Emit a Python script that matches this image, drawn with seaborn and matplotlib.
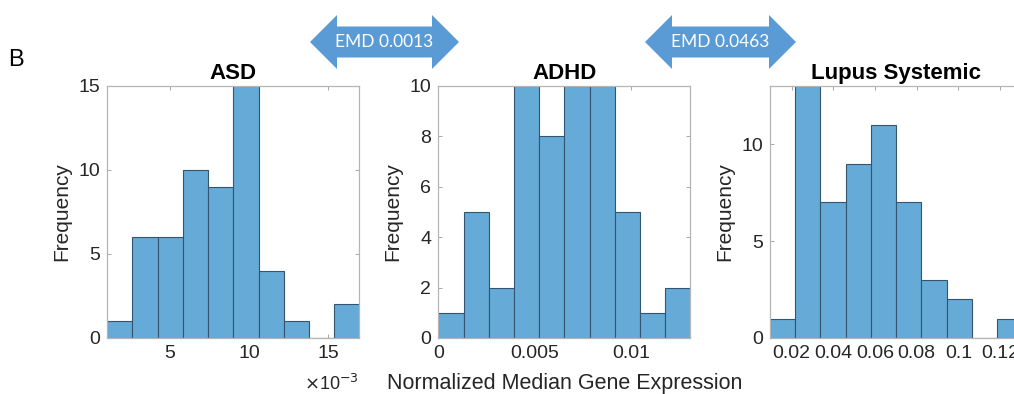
import numpy as np
import pandas as pd
import matplotlib
matplotlib.use("Agg")
import matplotlib.pyplot as plt
from matplotlib.patches import Polygon
import seaborn as sns

# ---- data ----
asd_edges = [0.0010, 0.0026, 0.0042, 0.0058, 0.0074, 0.0090, 0.0106, 0.0122, 0.0138, 0.0154, 0.0170]
asd_counts = [1, 6, 6, 10, 9, 15, 4, 1, 0, 2]

adhd_edges = [0.0, 0.00131, 0.00262, 0.00393, 0.00524, 0.00655, 0.00786, 0.00917, 0.01048, 0.01179, 0.0131]
adhd_counts = [1, 5, 2, 10, 8, 10, 10, 5, 1, 2]

lupus_edges = [0.0096, 0.0217, 0.0338, 0.0459, 0.0580, 0.0701, 0.0822, 0.0943, 0.1064, 0.1185, 0.1306]
lupus_counts = [1, 13, 7, 9, 11, 7, 3, 2, 0, 1]

titles = ["ASD", "ADHD", "Lupus Systemic"]
emd_labels = ["EMD 0.0013", "EMD 0.0463"]

asd_xticks = [0.005, 0.010, 0.015]
asd_xticklabels = ["5", "10", "15"]
adhd_xticks = [0.0, 0.005, 0.01]
adhd_xticklabels = ["0", "0.005", "0.01"]
lupus_xticks = [0.02, 0.04, 0.06, 0.08, 0.10, 0.12]
lupus_xticklabels = ["0.02", "0.04", "0.06", "0.08", "0.1", "0.12"]

asd_yticks = [0, 5, 10, 15]
adhd_yticks = [0, 2, 4, 6, 8, 10]
lupus_yticks = [0, 5, 10]

sns.set_theme(style="white")
plt.rcParams["font.family"] = ["Liberation Sans", "DejaVu Sans"]

W, H = 1014, 394
fig = plt.figure(figsize=(W / 100, H / 100), dpi=100)

bar_face = "#66aad7"
bar_edge = "#35546f"
spine_col = "#b5b5b5"
text_col = "#262626"

def px_axes(left, top, width, height):
    return [left / W, 1 - (top + height) / H, width / W, height / H]

panels = [
    (107, asd_edges, asd_counts, (0.0010, 0.01696), 15, asd_xticks, asd_xticklabels, asd_yticks),
    (438.3, adhd_edges, adhd_counts, (0.0, 0.01308), 10, adhd_xticks, adhd_xticklabels, adhd_yticks),
    (770, lupus_edges, lupus_counts, (0.0096, 0.1305), 13, lupus_xticks, lupus_xticklabels, lupus_yticks),
]

axes = []
for i, (left, edges, counts, xlim, ymax, xt, xtl, yt) in enumerate(panels):
    ax = fig.add_axes(px_axes(left, 86, 252, 252))
    centers = [(edges[k] + edges[k + 1]) / 2 for k in range(len(counts))]
    df = pd.DataFrame({"x": centers, "w": counts})
    sns.histplot(data=df, x="x", weights="w", bins=edges, ax=ax,
                 color=bar_face, edgecolor=bar_edge, linewidth=0.8, alpha=1.0)
    ax.set_xlim(*xlim)
    ax.set_ylim(0, ymax)
    ax.set_xticks(xt)
    ax.set_xticklabels(xtl)
    ax.set_yticks(yt)
    ax.tick_params(direction="in", length=3, width=0.6, color="#999999",
                   top=True, right=True, bottom=True, left=True,
                   labelsize=14, labelcolor=text_col, pad=5)
    for s in ax.spines.values():
        s.set_color(spine_col)
        s.set_linewidth(0.9)
        s.set_visible(True)
    ax.set_title(titles[i], fontsize=16, fontweight="bold", color="black", pad=5)
    ax.set_ylabel("Frequency", fontsize=15, color=text_col, labelpad=5)
    ax.set_xlabel("")
    axes.append(ax)

axes[1].set_xlabel("Normalized Median Gene Expression", fontsize=15.5,
                   color=text_col, labelpad=8)

# x10^-3 multiplier for ASD panel
fig.text(359 / W, 1 - 384 / H, r"$\times$10$^{-3}$", ha="right", va="center",
         fontsize=13, color=text_col)

# panel letter
fig.text(8 / W, 1 - 60 / H, "B", ha="left", va="center", fontsize=17, color="black")

# EMD double arrows
arrow_col = "#5b9bd5"
def double_arrow(x0, x1, head, yc, half_body, half_head, label):
    pts = [(x0, yc), (x0 + head, yc - half_head), (x0 + head, yc - half_body),
           (x1 - head, yc - half_body), (x1 - head, yc - half_head), (x1, yc),
           (x1 - head, yc + half_head), (x1 - head, yc + half_body),
           (x0 + head, yc + half_body), (x0 + head, yc + half_head)]
    pts = [(x / W, 1 - y / H) for x, y in pts]
    fig.add_artist(Polygon(pts, closed=True, transform=fig.transFigure,
                           facecolor=arrow_col, edgecolor="none"))
    fig.text((x0 + x1) / 2 / W, 1 - yc / H, label, ha="center", va="center",
             fontsize=12.5, color="white", family=["Lato", "DejaVu Sans"])

double_arrow(310, 459, 27, 42, 15.5, 27, emd_labels[0])
double_arrow(645, 796, 27, 42, 15.5, 27, emd_labels[1])

fig.savefig("out.png", dpi=100)
